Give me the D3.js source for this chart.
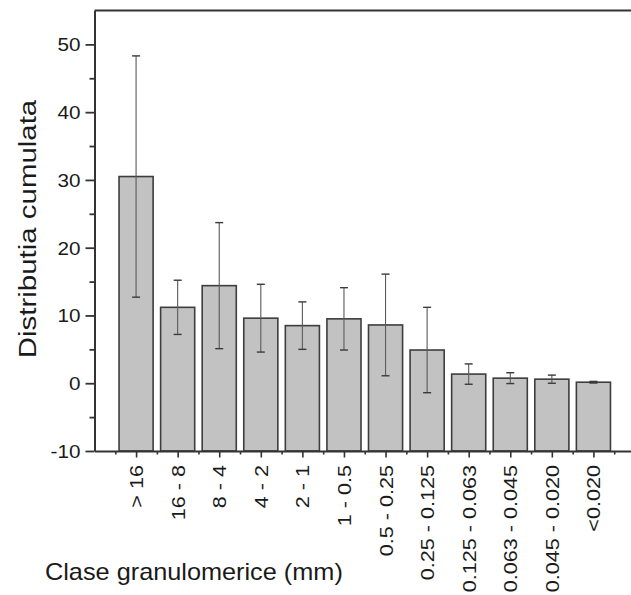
<!DOCTYPE html>
<html>
<head>
<meta charset="utf-8">
<script src="https://cdn.jsdelivr.net/npm/d3@7"></script>
<style>
  html, body { margin: 0; padding: 0; background: #fff; }
  svg { display: block; }
  text { font-family: "Liberation Sans", Arial, sans-serif; fill: #1a1a1a; }
</style>
</head>
<body>
<svg id="chart" width="631" height="595"></svg>
<script>
const categories = ["> 16", "16 - 8", "8 - 4", "4 - 2", "2 - 1", "1 - 0.5", "0.5 - 0.25",
  "0.25 - 0.125", "0.125 - 0.063", "0.063 - 0.045", "0.045 - 0.020", "<0.020"];
const values = [30.5, 11.2, 14.4, 9.6, 8.5, 9.5, 8.6, 4.9, 1.35, 0.75, 0.6, 0.15];
const errors = [17.8, 4.0, 9.3, 5.0, 3.5, 4.6, 7.5, 6.3, 1.5, 0.8, 0.6, 0.12];
const yMajorTicks = [-10, 0, 10, 20, 30, 40, 50];
const yMinorTicks = [-5, 5, 15, 25, 35, 45];
const yTitle = "Distributia cumulata";
const xTitle = "Clase granulomerice (mm)";

const svg = d3.select("#chart");
const mLeft = 94.5, mRight = 635, mTop = 10.5, mBottom = 451;

const x = d3.scaleLinear().domain([0, 13]).range([mLeft, mRight]);
const y = d3.scaleLinear().domain([-10, 55]).range([mBottom, mTop]);
const step = x(1) - x(0);
const bw = step * 0.82;
const pos = categories.map((c, i) => i + 1);

// bars
svg.append("g").selectAll("rect").data(values).join("rect")
  .attr("x", (d, i) => x(pos[i]) - bw / 2)
  .attr("y", d => y(d))
  .attr("width", bw)
  .attr("height", d => y(-10) - y(d))
  .attr("fill", "#c2c2c2")
  .attr("stroke", "#3d3d3d")
  .attr("stroke-width", 1.6);

// error bars
const eg = svg.append("g");
values.forEach((v, i) => {
  const cx = x(pos[i]);
  const y1 = y(v + errors[i]), y2 = y(v - errors[i]);
  eg.append("line").attr("x1", cx).attr("x2", cx).attr("y1", y1).attr("y2", y2)
    .attr("stroke", "#5a5a5a").attr("stroke-width", 1.1);
  [y1, y2].forEach(yy => {
    eg.append("line").attr("x1", cx - 4).attr("x2", cx + 4).attr("y1", yy).attr("y2", yy)
      .attr("stroke", "#3a3a3a").attr("stroke-width", 1.4);
  });
});

// top frame
svg.append("line").attr("x1", mLeft).attr("x2", 640).attr("y1", mTop).attr("y2", mTop)
  .attr("stroke", "#333").attr("stroke-width", 2);

// y axis minor
const yMinor = svg.append("g").attr("transform", `translate(${mLeft},0)`)
  .call(d3.axisLeft(y).tickValues(yMinorTicks).tickSize(5).tickFormat(""));
yMinor.select(".domain").remove();
yMinor.selectAll("line").attr("stroke", "#333").attr("stroke-width", 1.8);

// y axis major
const yAx = svg.append("g").attr("transform", `translate(${mLeft},0)`)
  .call(d3.axisLeft(y).tickValues(yMajorTicks).tickSize(9).tickSizeOuter(0).tickFormat(d => String(d)));
yAx.select(".domain").attr("stroke", "#333").attr("stroke-width", 2);
yAx.selectAll(".tick line").attr("stroke", "#333").attr("stroke-width", 1.8);
yAx.selectAll(".tick text")
  .attr("x", null).attr("dy", null)
  .attr("font-size", 18)
  .attr("text-anchor", "end")
  .attr("transform", "translate(-14,6.5) scale(1.15,1)")
  .style("fill", "#1a1a1a");

// x axis minor
const xMinorVals = d3.range(0, 13).map(i => i + 0.5);
const xMinor = svg.append("g").attr("transform", `translate(0,${mBottom})`)
  .call(d3.axisBottom(x).tickValues(xMinorVals).tickSize(3.5).tickFormat(""));
xMinor.select(".domain").remove();
xMinor.selectAll("line").attr("stroke", "#333").attr("stroke-width", 1.6);

// x axis major
const xAx = svg.append("g").attr("transform", `translate(0,${mBottom})`)
  .call(d3.axisBottom(x).tickValues(pos.concat([13])).tickSize(6.5).tickSizeOuter(0)
    .tickFormat(d => d <= categories.length ? categories[d - 1] : ""));
xAx.select(".domain").attr("stroke", "#333").attr("stroke-width", 2);
xAx.selectAll(".tick line").attr("stroke", "#333").attr("stroke-width", 1.6);
xAx.selectAll(".tick text")
  .attr("x", null).attr("y", null).attr("dy", null)
  .attr("font-size", 18)
  .attr("text-anchor", "end")
  .attr("transform", "translate(6.5,14) rotate(-90) scale(1.2,1)")
  .style("fill", "#1a1a1a");

// axis titles
svg.append("text")
  .attr("transform", "translate(36,229) rotate(-90) scale(1.28,1)")
  .attr("text-anchor", "middle")
  .attr("font-size", 23)
  .text(yTitle);

svg.append("text")
  .attr("transform", "translate(45,580) scale(1.1,1)")
  .attr("text-anchor", "start")
  .attr("font-size", 23)
  .text(xTitle);
</script>
</body>
</html>
